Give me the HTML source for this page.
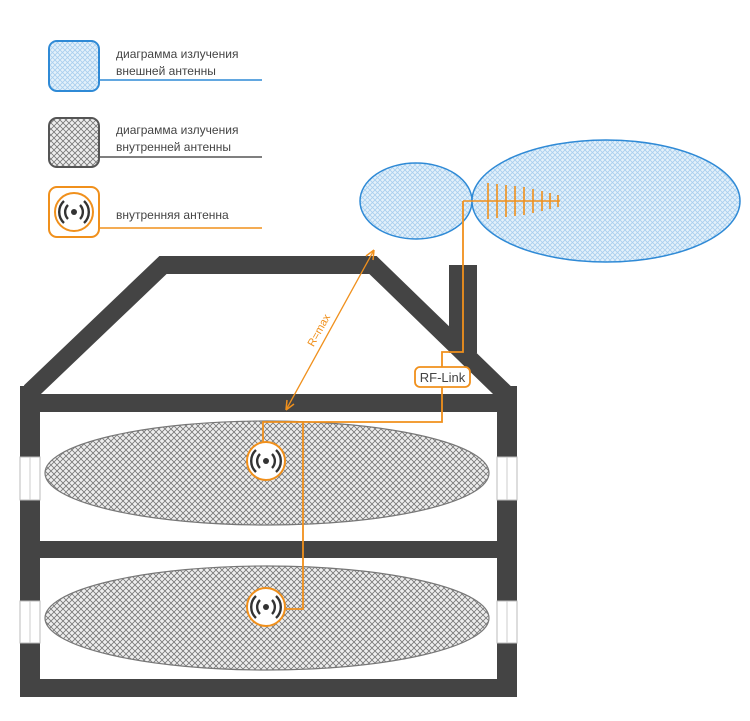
<!DOCTYPE html>
<html><head><meta charset="utf-8"><style>body{margin:0;background:#fff}svg{display:block}</style></head><body>
<svg width="750" height="721" viewBox="0 0 750 721" xmlns="http://www.w3.org/2000/svg">
<defs>
<pattern id="bh" width="5" height="5" patternUnits="userSpaceOnUse"><rect width="5" height="5" fill="#e4f1fb"/><path d="M0 0L5 5M5 0L0 5" stroke="#a9cfee" stroke-width="0.8"/></pattern>
<pattern id="gh" width="6" height="6" patternUnits="userSpaceOnUse"><rect width="6" height="6" fill="#eee"/><path d="M0 0L6 6M6 0L0 6" stroke="#777" stroke-width="0.8"/></pattern>
<g id="ant"><circle r="19" fill="#fff" stroke="#f0901c" stroke-width="2"/><circle r="3" fill="#333"/><path d="M-6 -7A10 10 0 0 0 -6 7M6 -7A10 10 0 0 1 6 7M-10 -11A15 15 0 0 0 -10 11M10 -11A15 15 0 0 1 10 11" fill="none" stroke="#333" stroke-width="2.4"/></g>
</defs>
<g font-family="Liberation Sans, sans-serif" font-size="12" fill="#444">
<rect x="49" y="41" width="50" height="50" rx="8" fill="url(#bh)" stroke="#2f8ad6" stroke-width="2"/>
<line x1="99" y1="80" x2="262" y2="80" stroke="#2f8ad6" stroke-width="1.5"/>
<text x="116" y="58">диаграмма излучения</text><text x="116" y="75">внешней антенны</text>
<rect x="49" y="118" width="50" height="49" rx="8" fill="url(#gh)" stroke="#555" stroke-width="2"/>
<line x1="99" y1="157" x2="262" y2="157" stroke="#555" stroke-width="1.5"/>
<text x="116" y="134">диаграмма излучения</text><text x="116" y="151">внутренней антенны</text>
<rect x="49" y="187" width="50" height="50" rx="8" fill="#fff" stroke="#f0901c" stroke-width="2"/>
<use href="#ant" x="74" y="212"/>
<line x1="99" y1="228" x2="262" y2="228" stroke="#f0901c" stroke-width="1.5"/>
<text x="116" y="219">внутренняя антенна</text>
</g>
<ellipse cx="416" cy="201" rx="56" ry="38" fill="url(#bh)" stroke="#2f8ad6" stroke-width="1.5"/>
<ellipse cx="606" cy="201" rx="134" ry="61" fill="url(#bh)" stroke="#2f8ad6" stroke-width="1.5"/>
<g stroke="#f0901c" stroke-width="1.6">
<line x1="463" y1="201" x2="560" y2="201"/>
<line x1="488" y1="183" x2="488" y2="219"/><line x1="497" y1="184" x2="497" y2="218"/><line x1="506" y1="185" x2="506" y2="217"/><line x1="515" y1="186" x2="515" y2="216"/><line x1="524" y1="187" x2="524" y2="215"/><line x1="533" y1="189" x2="533" y2="213"/><line x1="542" y1="191" x2="542" y2="211"/><line x1="550" y1="193" x2="550" y2="209"/><line x1="558" y1="195" x2="558" y2="207"/>
</g>
<rect x="449" y="265" width="28" height="88" fill="#444"/>
<g fill="none" stroke="#444">
<polyline points="30,392 163,265 373,265 507,395" stroke-width="18" stroke-linejoin="miter"/>
<line x1="30" y1="386" x2="30" y2="697" stroke-width="20"/>
<line x1="507" y1="386" x2="507" y2="697" stroke-width="20"/>
<line x1="20" y1="403" x2="517" y2="403" stroke-width="18"/>
<line x1="20" y1="549.5" x2="517" y2="549.5" stroke-width="17"/>
<line x1="20" y1="688" x2="517" y2="688" stroke-width="18"/>
</g>
<g fill="#fff" stroke="#bbb" stroke-width="1">
<rect x="20" y="457" width="20" height="43"/><rect x="20" y="601" width="20" height="42"/>
<rect x="497" y="457" width="20" height="43"/><rect x="497" y="601" width="20" height="42"/>
</g>
<g stroke="#ccc"><line x1="30" y1="457" x2="30" y2="500"/><line x1="30" y1="601" x2="30" y2="643"/><line x1="507" y1="457" x2="507" y2="500"/><line x1="507" y1="601" x2="507" y2="643"/></g>
<ellipse cx="267" cy="473" rx="222" ry="52" fill="url(#gh)" stroke="#777" stroke-width="1.2"/>
<ellipse cx="267" cy="618" rx="222" ry="52" fill="url(#gh)" stroke="#777" stroke-width="1.2"/>
<g fill="none" stroke="#f0901c" stroke-width="1.8">
<polyline points="463,201 463,352 442,352 442,422 263,422 263,442"/>
<polyline points="303,422 303,609 285,609"/>
<line x1="374" y1="250" x2="286" y2="410" stroke-width="1.3"/>
<path d="M374 250l-1 10M374 250l-8 6M286 410l1-10M286 410l8-6" stroke-width="1.5"/>
</g>
<rect x="415" y="367" width="55" height="20" rx="5" fill="#fff" stroke="#f0901c" stroke-width="1.8"/>
<text x="442.5" y="382" text-anchor="middle" font-family="Liberation Sans, sans-serif" font-size="13" fill="#444">RF-Link</text>
<text transform="translate(322,332) rotate(-61)" text-anchor="middle" font-family="Liberation Sans, sans-serif" font-size="11" fill="#f0901c">R=max</text>
<use href="#ant" x="266" y="461"/>
<use href="#ant" x="266" y="607"/>
</svg>
</body></html>
